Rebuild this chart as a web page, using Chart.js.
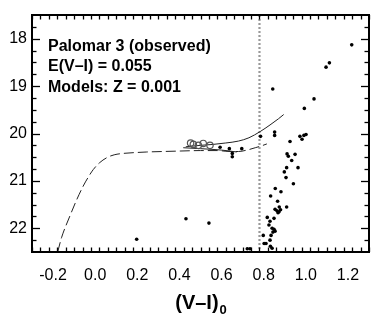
<!DOCTYPE html>
<html>
<head>
<meta charset="utf-8">
<script src="https://cdn.jsdelivr.net/npm/chart.js@4"></script>
<style>
  html, body { margin: 0; padding: 0; background: #fff; }
  #wrap { width: 390px; height: 315px; position: relative; }
</style>
</head>
<body>
<div id="wrap"><canvas id="cmd"></canvas></div>
<script>
// observed stars, (V-I)0 colour and V magnitude
const starColor = [
  1.218, 1.112, 1.096, 0.843, 1.039, 0.993,
  0.785, 0.852, 0.852, 0.925,
  0.972, 0.982, 0.991, 1.001,
  0.911, 0.917, 0.949, 0.933,
  0.909, 0.898, 0.963, 0.906, 0.941,
  0.855, 0.882, 0.833, 0.866, 0.909, 0.874,
  0.854, 0.863, 0.873, 0.880, 0.868,
  0.817, 0.849, 0.830, 0.825,
  0.840, 0.849, 0.854, 0.844,
  0.798, 0.835, 0.830, 0.802, 0.811, 0.832, 0.840,
  0.722, 0.735,
  0.431, 0.540, 0.197,
  0.593, 0.637, 0.651, 0.651, 0.696
];
const starMag = [
  18.13, 18.51, 18.60, 19.06, 19.27, 19.47,
  20.06, 19.97, 20.04, 20.17,
  20.06, 20.12, 20.04, 20.02,
  20.43, 20.48, 20.44, 20.57,
  20.72, 20.81, 20.72, 20.93, 21.06,
  21.16, 21.23, 21.32, 21.43, 21.55, 21.55,
  21.60, 21.63, 21.65, 21.61, 21.67,
  21.77, 21.79, 21.85, 21.93,
  22.00, 22.02, 22.06, 22.08,
  22.15, 22.15, 22.25, 22.32, 22.32, 22.38, 22.42,
  22.43, 22.43,
  21.80, 21.89, 22.23,
  20.29, 20.32, 20.42, 20.49, 20.32
];

// horizontal branch stars (open circles)
const hbColor = [0.453, 0.466, 0.490, 0.513, 0.545];
const hbMag = [20.20, 20.23, 20.25, 20.21, 20.25];

// model ZAHB (dashed)
const zahbColor = [-0.178, -0.16, -0.12, -0.09, -0.057, -0.03, -0.009, 0.02, 0.055, 0.09, 0.133, 0.2, 0.245, 0.32, 0.403, 0.5, 0.58, 0.64, 0.68, 0.72, 0.76, 0.79, 0.815];
const zahbMag = [22.5, 22.2, 21.74, 21.42, 21.11, 20.9, 20.76, 20.62, 20.51, 20.45, 20.42, 20.4, 20.39, 20.38, 20.37, 20.36, 20.36, 20.38, 20.38, 20.35, 20.3, 20.26, 20.22];

// model tracks (solid)
const trackColor = [0.43, 0.5, 0.56, 0.62, 0.68, 0.73, 0.783, 0.83, 0.87, 0.895];
const trackMag = [20.28, 20.25, 20.23, 20.2, 20.16, 20.09, 19.96, 19.82, 19.69, 19.6];
const track2Color = [0.418, 0.5, 0.6, 0.672];
const track2Mag = [20.3, 20.32, 20.35, 20.39];

// red edge (dotted)
const redEdge = 0.78;

const xTicks = [-0.2, 0.0, 0.2, 0.4, 0.6, 0.8, 1.0, 1.2];
const yTicks = [18, 19, 20, 21, 22];
const notes = ["Palomar 3 (observed)", "E(V\u2013I) = 0.055", "Models: Z = 0.001"];

const pts = (xs, ys) => xs.map((v, i) => ({ x: v, y: ys[i] }));

const frame = {
  id: "frame",
  afterDatasetsDraw(chart) {
    const { ctx, chartArea: a, scales: { x, y } } = chart;
    ctx.save();
    ctx.strokeStyle = "#000";
    ctx.lineWidth = 1.3;
    const line = (x0, y0, x1, y1) => {
      ctx.beginPath();
      ctx.moveTo(x0, y0);
      ctx.lineTo(x1, y1);
      ctx.stroke();
    };
    for (let i = 0; i <= 40; i++) {
      const v = -0.3 + i * 0.04;
      if (v < -0.3 || v > 1.3) continue;
      const major = xTicks.some((t) => Math.abs(t - v) < 1e-6);
      const px = Math.round(x.getPixelForValue(v)) + 0.5;
      const len = major ? 8 : 4.5;
      line(px, a.bottom, px, a.bottom - len);
      line(px, a.top, px, a.top + len);
    }
    for (let i = 1; i < 20; i++) {
      const v = 17.5 + i * 0.25;
      const major = yTicks.includes(v);
      const py = Math.round(y.getPixelForValue(v)) + 0.5;
      const len = major ? 8 : 4.5;
      line(a.left, py, a.left + len, py);
      line(a.right, py, a.right - len, py);
    }
    ctx.lineWidth = 2;
    ctx.strokeRect(a.left, a.top, a.right - a.left, a.bottom - a.top);

    ctx.fillStyle = "#000";
    ctx.textBaseline = "alphabetic";
    ctx.textAlign = "left";
    ctx.font = "bold 16px 'Liberation Sans', Arial, sans-serif";
    notes.forEach((t, i) => ctx.fillText(t, a.left + 16, 50.5 + i * 20.5));

    const mid = (a.left + a.right) / 2;
    ctx.font = "bold 20px 'Liberation Sans', Arial, sans-serif";
    const main = "(V\u2013I)";
    const w = ctx.measureText(main).width;
    ctx.font = "bold 13px 'Liberation Sans', Arial, sans-serif";
    const ws = ctx.measureText("0").width;
    const start = mid - (w + ws) / 2;
    ctx.font = "bold 20px 'Liberation Sans', Arial, sans-serif";
    ctx.fillText(main, start, 309);
    ctx.font = "bold 13px 'Liberation Sans', Arial, sans-serif";
    ctx.fillText("0", start + w + 1, 314);
    ctx.restore();
  }
};

Chart.defaults.font.family = "'Liberation Sans', Arial, sans-serif";
Chart.defaults.color = "#000";

new Chart(document.getElementById("cmd").getContext("2d"), {
  type: "scatter",
  data: {
    datasets: [
      {
        label: "stars",
        data: pts(starColor, starMag),
        pointRadius: 1.8,
        pointBackgroundColor: "#000",
        pointBorderWidth: 0
      },
      {
        label: "HB",
        data: pts(hbColor, hbMag),
        pointRadius: 3.2,
        pointBackgroundColor: "rgba(255,255,255,0)",
        pointBorderColor: "#555",
        pointBorderWidth: 1.2
      },
      {
        label: "track",
        data: pts(trackColor, trackMag),
        showLine: true,
        pointRadius: 0,
        borderColor: "#222",
        borderWidth: 1,
        cubicInterpolationMode: "monotone"
      },
      {
        label: "track 2",
        data: pts(track2Color, track2Mag),
        showLine: true,
        pointRadius: 0,
        borderColor: "#222",
        borderWidth: 1,
        cubicInterpolationMode: "monotone"
      },
      {
        label: "ZAHB",
        data: pts(zahbColor, zahbMag),
        showLine: true,
        pointRadius: 0,
        borderColor: "#222",
        borderWidth: 1,
        borderDash: [10, 4],
        cubicInterpolationMode: "monotone"
      },
      {
        label: "red edge",
        data: [{ x: redEdge, y: 17.5 }, { x: redEdge, y: 22.5 }],
        showLine: true,
        pointRadius: 0,
        borderColor: "#999",
        borderWidth: 2.2,
        borderDash: [2, 2]
      }
    ]
  },
  options: {
    responsive: true,
    maintainAspectRatio: false,
    animation: false,
    layout: { padding: { top: 15, right: 21, left: 0, bottom: 0 } },
    plugins: {
      legend: { display: false },
      tooltip: { enabled: false }
    },
    scales: {
      x: {
        type: "linear",
        min: -0.3,
        max: 1.3,
        afterFit: (axis) => { axis.height = 63; },
        afterBuildTicks: (axis) => { axis.ticks = xTicks.map((v) => ({ value: v })); },
        ticks: {
          font: { size: 16 },
          padding: 14,
          maxRotation: 0,
          callback: (v) => Number(v).toFixed(1)
        },
        grid: { display: false, drawTicks: false },
        border: { display: false }
      },
      y: {
        type: "linear",
        reverse: true,
        min: 17.5,
        max: 22.5,
        afterFit: (axis) => { axis.width = 32; },
        afterBuildTicks: (axis) => { axis.ticks = yTicks.map((v) => ({ value: v })); },
        ticks: {
          font: { size: 16 },
          padding: 5
        },
        grid: { display: false, drawTicks: false },
        border: { display: false }
      }
    }
  },
  plugins: [frame]
});
</script>
</body>
</html>
